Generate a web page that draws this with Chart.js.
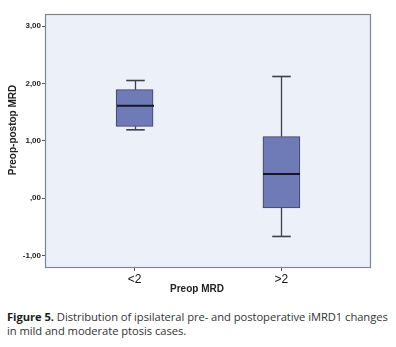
<!DOCTYPE html>
<html>
<head>
<meta charset="utf-8">
<script src="https://cdn.jsdelivr.net/npm/chart.js@4/dist/chart.umd.min.js"></script>
<style>
  body { margin: 0; background: #fff; width: 396px; height: 347px; overflow: hidden; }
  #wrap { position: relative; width: 396px; height: 300px; }
  .caption {
    position: absolute; left: 7px; top: 310px; width: 384px;
    font-family: "Open Sans", sans-serif; font-size: 11.2px; line-height: 14px;
    color: #333; letter-spacing: -0.05px;
  }
  .caption b { color: #1c1c1c; }
</style>
</head>
<body>
<div id="wrap"><canvas id="boxChart" width="396" height="300"></canvas></div>
<div class="caption"><b>Figure 5.</b> Distribution of ipsilateral pre- and postoperative iMRD1 changes in mild and moderate ptosis cases.</div>
<script>
// Preop MRD groups and the five-number summary of each box
const groups = ['<2', '>2'];
const whiskerLow = [1.19, -0.67];
const quartile1 = [1.25, -0.17];
const medians = [1.61, 0.42];
const quartile3 = [1.89, 1.07];
const whiskerHigh = [2.05, 2.12];

const yTickValues = [-1, 0, 1, 2, 3];
const yTickLabels = ['-1,00', ',00', '1,00', '2,00', '3,00'];

const boxFill = '#6f7bb6';
const boxEdge = '#3b4160';

// light panel behind the plot, plus the gray frame around it
const panel = {
  id: 'panel',
  beforeDraw(chart) {
    const { ctx, chartArea: a } = chart;
    ctx.save();
    ctx.fillStyle = '#ecf0f8';
    ctx.fillRect(a.left, a.top, a.right - a.left, a.bottom - a.top);
    ctx.restore();
  },
  afterDraw(chart) {
    const { ctx, chartArea: a } = chart;
    ctx.save();
    ctx.strokeStyle = '#80848e';
    ctx.lineWidth = 1.2;
    ctx.strokeRect(a.left + 0.5, a.top + 0.5, a.right - a.left - 1, a.bottom - a.top - 1);

    // axis titles
    ctx.fillStyle = '#222';
    ctx.font = 'bold 10px "Liberation Sans", Arial, sans-serif';
    ctx.textAlign = 'center';
    ctx.textBaseline = 'middle';
    ctx.fillText('Preop MRD', (a.left + a.right) / 2 - 11, 289);
    ctx.translate(13, (a.top + a.bottom) / 2 - 11);
    ctx.rotate(-Math.PI / 2);
    ctx.fillText('Preop-postop MRD', 0, 0);
    ctx.restore();
  }
};

// whiskers, caps and median lines on top of the boxes
const whiskers = {
  id: 'whiskers',
  afterDatasetsDraw(chart) {
    const { ctx, scales: { x, y } } = chart;
    const meta = chart.getDatasetMeta(0);
    ctx.save();
    groups.forEach((g, i) => {
      const cx = Math.round(x.getPixelForValue(i + 1)) + 0.5;
      const half = meta.data[i].width / 2;
      const cap = half / 2;
      const line = (x0, y0, x1, y1) => {
        ctx.beginPath(); ctx.moveTo(x0, y0); ctx.lineTo(x1, y1); ctx.stroke();
      };
      ctx.strokeStyle = '#3d3f4a';
      ctx.lineWidth = 1.3;
      line(cx, y.getPixelForValue(quartile3[i]), cx, y.getPixelForValue(whiskerHigh[i]));
      line(cx, y.getPixelForValue(quartile1[i]), cx, y.getPixelForValue(whiskerLow[i]));
      ctx.lineWidth = 1.6;
      line(cx - cap, y.getPixelForValue(whiskerHigh[i]), cx + cap, y.getPixelForValue(whiskerHigh[i]));
      line(cx - cap, y.getPixelForValue(whiskerLow[i]), cx + cap, y.getPixelForValue(whiskerLow[i]));
      ctx.strokeStyle = '#14172a';
      ctx.lineWidth = 2;
      line(cx - half, y.getPixelForValue(medians[i]), cx + half, y.getPixelForValue(medians[i]));
    });
    ctx.restore();
  }
};

new Chart(document.getElementById('boxChart'), {
  type: 'bar',
  data: {
    datasets: [{
      data: groups.map((g, i) => ({ x: i + 1, y: [quartile1[i], quartile3[i]] })),
      backgroundColor: boxFill,
      borderColor: boxEdge,
      borderWidth: 1,
      borderSkipped: false,
      barThickness: 37
    }]
  },
  options: {
    responsive: false,
    animation: false,
    layout: { padding: { left: 0, top: 14, right: 25, bottom: 0 } },
    plugins: { legend: { display: false }, tooltip: { enabled: false } },
    scales: {
      x: {
        type: 'linear',
        offset: false,
        min: 0.39,
        max: 2.61,
        afterBuildTicks: s => { s.ticks = groups.map((g, i) => ({ value: i + 1 })); },
        afterFit: s => { s.height = 32; },
        grid: { offset: false, drawOnChartArea: false, tickLength: 3, color: '#555' },
        border: { display: false },
        ticks: {
          padding: 1,
          color: '#111',
          font: { family: '"Liberation Sans", Arial, sans-serif', size: 12 },
          callback: v => groups[v - 1]
        }
      },
      y: {
        min: -1.22,
        max: 3.21,
        afterBuildTicks: s => { s.ticks = yTickValues.map(v => ({ value: v })); },
        afterFit: s => { s.width = 45; },
        grid: { drawOnChartArea: false, tickLength: 3, color: '#555' },
        border: { display: false },
        ticks: {
          padding: 1,
          color: '#222',
          font: { family: '"Liberation Sans", Arial, sans-serif', size: 8, weight: 'bold' },
          callback: v => yTickLabels[yTickValues.indexOf(v)]
        }
      }
    }
  },
  plugins: [panel, whiskers]
});
</script>
</body>
</html>
